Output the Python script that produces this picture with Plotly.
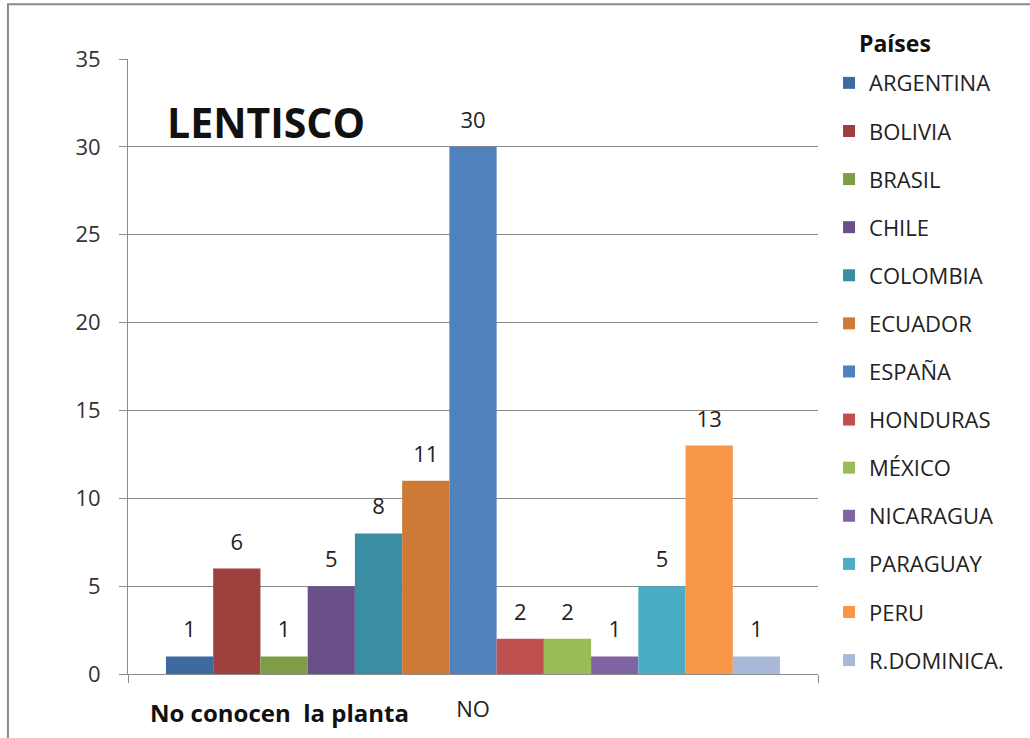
import plotly.graph_objects as go

countries = ["ARGENTINA", "BOLIVIA", "BRASIL", "CHILE", "COLOMBIA", "ECUADOR",
             "ESPAÑA", "HONDURAS", "MÉXICO", "NICARAGUA", "PARAGUAY", "PERU", "R.DOMINICA."]
values = [1, 6, 1, 5, 8, 11, 30, 2, 2, 1, 5, 13, 1]
colors = ["#3D6A9F", "#9E403D", "#7F9C47", "#6A5088", "#3B8DA4", "#CD7A37",
          "#4F81BD", "#C0504D", "#9BBB59", "#8064A2", "#4BACC6", "#F79646", "#A9BAD8"]
category = ["NO"]
yticks = [0, 5, 10, 15, 20, 25, 30, 35]

FONT = "Open Sans"

fig = go.Figure()
for i, (name, v, c) in enumerate(zip(countries, values, colors)):
    fig.add_trace(go.Bar(
        x=category, y=[v], name=name, marker=dict(color=c, line=dict(width=0)),
        text=[v],
        texttemplate="<span style='font-size:22px'>%{text}</span><br> ",
        textposition="outside",
        textfont=dict(size=10, color="#222222", family=FONT),
        cliponaxis=False, legendgroup=name,
    ))

fig.update_layout(
    width=1030, height=738,
    paper_bgcolor="white", plot_bgcolor="white",
    margin=dict(l=128, r=212, t=59, b=64, autoexpand=False),
    barmode="group", bargap=0.11, bargroupgap=0,
    font=dict(family=FONT, color="#222222"),
    showlegend=True,
    legend=dict(
        x=1.016, y=0.995, xanchor="left", yanchor="top",
        font=dict(size=22, family=FONT, color="#222222"),
        traceorder="grouped", tracegroupgap=16.5,
        maxheight=730,
    ),
    xaxis=dict(
        showline=True, linecolor="#8c8c8c", linewidth=1,
        tickfont=dict(size=22, family=FONT, color="#222222"),
        showgrid=False, ticks="outside", tickson="boundaries", ticklen=8, tickcolor="#8c8c8c",
        ticklabelstandoff=16,
    ),
    yaxis=dict(
        range=[0, 35], tickvals=yticks, ticktext=[str(t) for t in yticks],
        showgrid=True, gridcolor="#8c8c8c", gridwidth=1,
        showline=True, linecolor="#8c8c8c", linewidth=1,
        ticks="outside", ticklen=8, tickcolor="#8c8c8c",
        tickfont=dict(size=22, family=FONT, color="#333333"),
        ticklabelstandoff=14, zeroline=False,
    ),
    annotations=[
        dict(text="<b>Países</b>", xref="paper", yref="paper", x=1.057, y=1.026,
             xanchor="left", yanchor="middle", showarrow=False,
             font=dict(size=23, family=FONT, color="#111111")),
        dict(text="<b>LENTISCO</b>", xref="paper", yref="paper", x=0.053, y=0.8976,
             xanchor="left", yanchor="middle", showarrow=False,
             font=dict(size=41, family=FONT, color="#111111")),
        dict(text="<b>No conocen&nbsp; la planta</b>", xref="paper", yref="paper", x=0.219, y=-0.062,
             xanchor="center", yanchor="middle", showarrow=False,
             font=dict(size=24, family=FONT, color="#111111")),
    ],
    shapes=[
        dict(type="rect", xref="paper", yref="paper", x0=-0.174, x1=1.32, y0=-0.12, y1=1.089,
             line=dict(color="#8a8a8a", width=2), fillcolor="rgba(0,0,0,0)", layer="below"),
    ],
)

fig.write_html("out.html",
               config={"displayModeBar": False},
               post_script="document.body.style.margin='0';document.body.style.padding='0';")
